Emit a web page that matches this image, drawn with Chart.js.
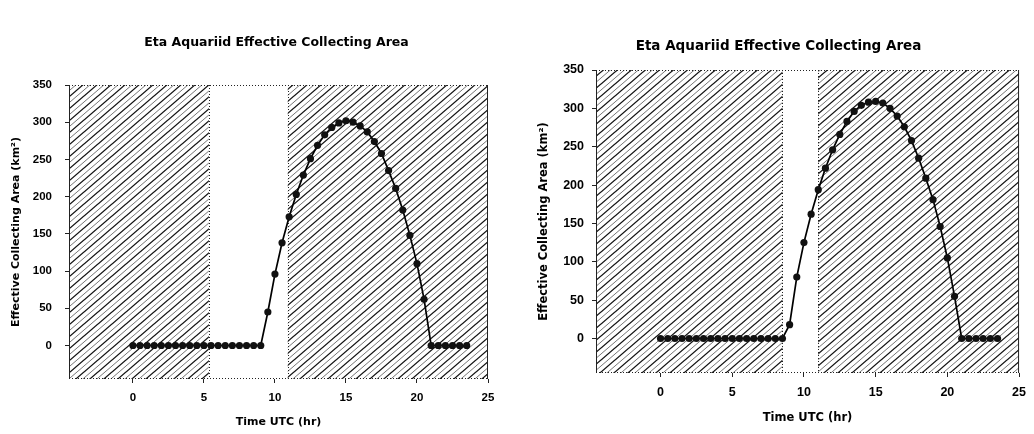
<!DOCTYPE html>
<html>
<head>
<meta charset="utf-8">
<script src="https://cdn.jsdelivr.net/npm/chart.js@4.4.1/dist/chart.umd.min.js"></script>
<style>
html, body { margin: 0; padding: 0; background: #fff; }
body { width: 1034px; height: 434px; position: relative; overflow: hidden; }
.box { position: absolute; top: 0; width: 517px; height: 434px; }
#boxLeft { left: 0; }
#boxRight { left: 517px; }
</style>
</head>
<body>
<div class="box" id="boxLeft"><canvas id="chartLeft"></canvas></div>
<div class="box" id="boxRight"><canvas id="chartRight"></canvas></div>
<script>
const chartTitle = 'Eta Aquariid Effective Collecting Area';
const xTitle = 'Time UTC (hr)';
const yTitle = 'Effective Collecting Area (km\u00B2)';

const hours = [0, 0.5, 1, 1.5, 2, 2.5, 3, 3.5, 4, 4.5, 5, 5.5, 6, 6.5, 7, 7.5, 8, 8.5, 9, 9.5,
               10, 10.5, 11, 11.5, 12, 12.5, 13, 13.5, 14, 14.5, 15, 15.5, 16, 16.5, 17, 17.5,
               18, 18.5, 19, 19.5, 20, 20.5, 21, 21.5, 22, 22.5, 23, 23.5];

// left panel
const areaLeft = [0, 0, 0, 0, 0, 0, 0, 0, 0, 0, 0, 0, 0, 0, 0, 0, 0, 0, 0, 45,
                  96, 138, 173, 203, 229, 251, 269, 283, 293, 299, 302, 300, 295, 287, 274, 258,
                  235, 211, 182, 148, 110, 62, 0, 0, 0, 0, 0, 0];
// right panel
const areaRight = [0, 0, 0, 0, 0, 0, 0, 0, 0, 0, 0, 0, 0, 0, 0, 0, 0, 0, 18, 80,
                   125, 162, 194, 222, 246, 266, 283, 296, 304, 308, 309, 307, 300, 290, 276, 258,
                   235, 209, 181, 146, 105, 55, 0, 0, 0, 0, 0, 0];

// unshaded window (hours)
const gapLeft = [5.35, 10.9];
const gapRight = [8.5, 11];

const xTicks = [0, 5, 10, 15, 20, 25];
const yTicks = [0, 50, 100, 150, 200, 250, 300, 350];

function makeHatch() {
    const c = document.createElement('canvas');
    c.width = 14; c.height = 12;
    const g = c.getContext('2d');
    g.lineWidth = 1.3;
    g.strokeStyle = '#111';
    [-14, 0, 14].forEach(dx => {
        g.beginPath(); g.moveTo(dx - 7, 18); g.lineTo(dx + 21, -6); g.stroke();
    });
    g.lineWidth = 1;
    g.strokeStyle = '#777';
    [-7, 7, 21].forEach(dx => {
        g.beginPath(); g.moveTo(dx - 7, 18); g.lineTo(dx + 21, -6); g.stroke();
    });
    return c;
}
const hatchTile = makeHatch();

const hatchPlugin = {
    id: 'hatch',
    beforeDatasetsDraw(chart, args, opts) {
        const {ctx, chartArea: a, scales: {x}} = chart;
        const g0 = x.getPixelForValue(opts.gap[0]);
        const g1 = x.getPixelForValue(opts.gap[1]);
        ctx.save();
        ctx.fillStyle = ctx.createPattern(hatchTile, 'repeat');
        ctx.fillRect(a.left, a.top, g0 - a.left, a.bottom - a.top);
        ctx.fillRect(g1, a.top, a.right - g1, a.bottom - a.top);

        ctx.strokeStyle = '#222';
        ctx.lineWidth = 1;
        // dotted top, bottom and window edges
        ctx.setLineDash([1, 2]);
        ctx.beginPath();
        ctx.moveTo(a.left, a.top + 0.5); ctx.lineTo(a.right, a.top + 0.5);
        ctx.moveTo(a.left, a.bottom - 0.5); ctx.lineTo(a.right, a.bottom - 0.5);
        ctx.moveTo(Math.round(g0) + 0.5, a.top); ctx.lineTo(Math.round(g0) + 0.5, a.bottom);
        ctx.moveTo(Math.round(g1) + 0.5, a.top); ctx.lineTo(Math.round(g1) + 0.5, a.bottom);
        ctx.stroke();
        // solid sides
        ctx.setLineDash([]);
        ctx.beginPath();
        ctx.moveTo(a.left + 0.5, a.top); ctx.lineTo(a.left + 0.5, a.bottom);
        ctx.moveTo(a.right - 0.5, a.top); ctx.lineTo(a.right - 0.5, a.bottom);
        ctx.stroke();
        ctx.restore();
    }
};

const titlePlugin = {
    id: 'topTitle',
    afterDraw(chart, args, opts) {
        const {ctx, chartArea: a} = chart;
        ctx.save();
        ctx.font = opts.font;
        ctx.fillStyle = '#000';
        ctx.textAlign = 'center';
        ctx.textBaseline = 'middle';
        ctx.fillText(chartTitle, (a.left + a.right) / 2 + opts.dx, opts.y);
        ctx.restore();
    }
};

function makeChart(id, values, gap, cfg) {
    return new Chart(document.getElementById(id), {
        type: 'line',
        data: {
            datasets: [{
                data: hours.map((h, i) => ({x: h, y: values[i]})),
                borderColor: '#000',
                borderWidth: 1.7,
                pointRadius: 3.6,
                pointBorderWidth: 0,
                pointBackgroundColor: '#111',
                tension: 0,
                fill: false
            }]
        },
        options: {
            responsive: true,
            maintainAspectRatio: false,
            animation: false,
            layout: {padding: {top: cfg.top, right: cfg.right, left: 0, bottom: 0}},
            plugins: {
                legend: {display: false},
                tooltip: {enabled: false},
                hatch: {gap: gap},
                topTitle: {font: cfg.titleFont, y: cfg.titleY, dx: cfg.titleDx}
            },
            scales: {
                x: {
                    type: 'linear',
                    min: -4.5,
                    max: 25,
                    afterBuildTicks: s => { s.ticks = xTicks.map(v => ({value: v})); },
                    afterFit: s => { s.height = cfg.xh; },
                    grid: {drawOnChartArea: false, drawTicks: true, tickLength: 4, color: '#222'},
                    border: {display: false},
                    ticks: {
                        font: {family: 'Liberation Sans', weight: 'bold', size: cfg.tick},
                        color: '#000', padding: cfg.xpad, maxRotation: 0
                    },
                    title: {
                        display: true, text: xTitle, color: '#000',
                        font: {family: 'DejaVu Sans', weight: 'bold', size: cfg.axisT},
                        padding: {top: 0, bottom: cfg.xtpad}
                    }
                },
                y: {
                    min: -45,
                    max: 350,
                    afterBuildTicks: s => { s.ticks = yTicks.map(v => ({value: v})); },
                    afterFit: s => { s.width = cfg.yw; },
                    grid: {drawOnChartArea: false, drawTicks: true, tickLength: 4, color: '#222'},
                    border: {display: false},
                    ticks: {
                        font: {family: 'Liberation Sans', weight: 'bold', size: cfg.tick},
                        color: '#000', padding: cfg.ypad
                    },
                    title: {
                        display: true, text: yTitle, color: '#000',
                        font: {family: 'DejaVu Sans', weight: 'bold', size: cfg.axisT},
                        padding: {top: cfg.ytpad, bottom: 0}
                    }
                }
            }
        },
        plugins: [hatchPlugin, titlePlugin]
    });
}

makeChart('chartLeft', areaLeft, gapLeft, {
    top: 85, right: 29, xh: 55, yw: 69,
    tick: 11.5, axisT: 11, xpad: 8, ypad: 13, xtpad: 5, ytpad: 10,
    titleFont: 'bold 12.5px "DejaVu Sans"', titleY: 43, titleDx: -2
});
makeChart('chartRight', areaRight, gapRight, {
    top: 70, right: 8, xh: 61, yw: 79,
    tick: 12.5, axisT: 11.5, xpad: 8, ypad: 8, xtpad: 9, ytpad: 20,
    titleFont: 'bold 13.5px "DejaVu Sans"', titleY: 46, titleDx: -29
});
</script>
</body>
</html>
